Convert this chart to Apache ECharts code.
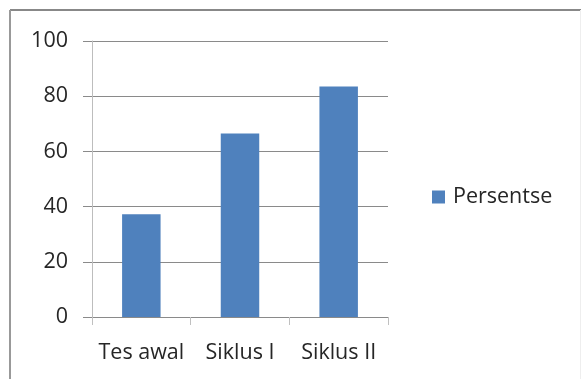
<!DOCTYPE html>
<html>
<head>
<meta charset="utf-8">
<script src="https://cdn.jsdelivr.net/npm/echarts@6/dist/echarts.min.js"></script>
<style>
html,body{margin:0;padding:0;background:#fff;}
#chart{width:581px;height:379px;}
</style>
</head>
<body>
<div id="chart"></div>
<script>
var categories = ["Tes awal", "Siklus I", "Siklus II"];
var seriesName = "Persentse";
var values = [37.2, 66.5, 83.5];
var yTicks = [0, 20, 40, 60, 80, 100];

var chart = echarts.init(document.getElementById('chart'), null, {renderer: 'canvas'});
var font = '"Open Sans", "Noto Sans", sans-serif';
chart.setOption({
  animation: false,
  backgroundColor: '#ffffff',
  graphic: [
    {type: 'line', shape: {x1: 10, y1: 10, x2: 581, y2: 10}, style: {stroke: '#888888', lineWidth: 2}, silent: true},
    {type: 'line', shape: {x1: 10, y1: 10, x2: 10, y2: 379}, style: {stroke: '#999999', lineWidth: 2}, silent: true},
    {type: 'line', shape: {x1: 580.5, y1: 10, x2: 580.5, y2: 379}, style: {stroke: '#eeeeee', lineWidth: 1}, silent: true}
  ],
  grid: {left: 92, right: 193, top: 41, bottom: 62, containLabel: false},
  legend: {
    data: [seriesName],
    orient: 'vertical',
    left: 432,
    top: 186,
    padding: 0,
    itemWidth: 13,
    itemHeight: 13,
    itemGap: 8,
    icon: 'rect',
    textStyle: {fontFamily: font, fontSize: 21.5, color: '#262626', padding: [0, 0, 0, 3]}
  },
  xAxis: {
    type: 'category',
    data: categories,
    axisLine: {lineStyle: {color: '#8a8a8a', width: 1}},
    axisTick: {show: true, length: 8, lineStyle: {color: '#c0c0c0'}},
    axisLabel: {fontFamily: font, fontSize: 21.5, color: '#262626', margin: 25, interval: 0, hideOverlap: false}
  },
  yAxis: {
    type: 'value',
    min: yTicks[0],
    max: yTicks[yTicks.length - 1],
    interval: 20,
    axisLine: {show: true, lineStyle: {color: '#bdbdbd', width: 1}},
    axisTick: {show: true, length: 9, lineStyle: {color: '#8a8a8a'}},
    axisLabel: {fontFamily: font, fontSize: 21.5, color: '#262626', margin: 24},
    splitLine: {show: true, lineStyle: {color: '#8a8a8a', width: 1}}
  },
  series: [{
    name: seriesName,
    type: 'bar',
    data: values,
    barWidth: '39%',
    itemStyle: {color: '#4F81BD'}
  }]
});
</script>
</body>
</html>
